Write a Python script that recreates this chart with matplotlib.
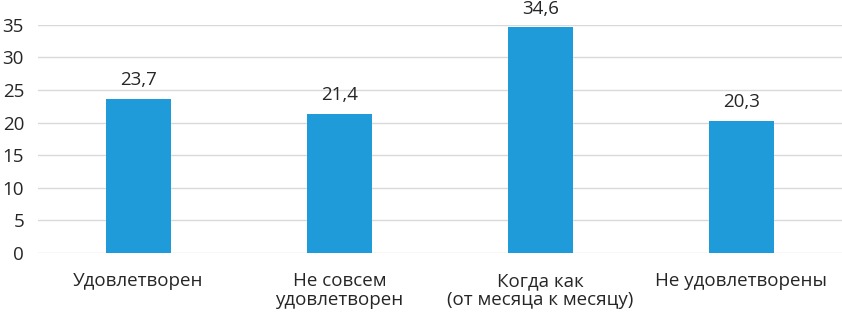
import numpy as np
import matplotlib
matplotlib.use("Agg")
import matplotlib.pyplot as plt

categories = ["Удовлетворен", "Не совсем\nудовлетворен", "Когда как\n(от месяца к месяцу)", "Не удовлетворены"]
values = [23.7, 21.4, 34.6, 20.3]
labels = ["23,7", "21,4", "34,6", "20,3"]

plt.rcParams['font.family'] = ['Open Sans', 'DejaVu Sans']

fig = plt.figure(figsize=(8.42, 3.15), dpi=100)
ax = fig.add_axes([0.045, 0.197, 0.955, 0.724])

x = np.arange(len(categories))
ax.bar(x, values, width=0.32, color="#1f9bd9", zorder=3)
for xi, v, lab in zip(x, values, labels):
    ax.text(xi, v + 1.5, lab, ha="center", va="bottom", fontsize=13.5, color="#262626")

ax.set_xlim(-0.5, 3.5)
ax.set_ylim(0, 35)
ax.set_yticks(range(0, 36, 5))
ax.set_xticks(x)
ax.set_xticklabels(categories, fontsize=13.5, color="#262626", linespacing=1.05)
ax.tick_params(axis="y", labelsize=13.5, labelcolor="#262626", length=0, pad=10)
ax.tick_params(axis="x", length=0, pad=14)
ax.grid(axis="y", color="#d9d9d9", linewidth=1, zorder=0)
for s in ax.spines.values():
    s.set_visible(False)

fig.savefig("out.png", dpi=100)
